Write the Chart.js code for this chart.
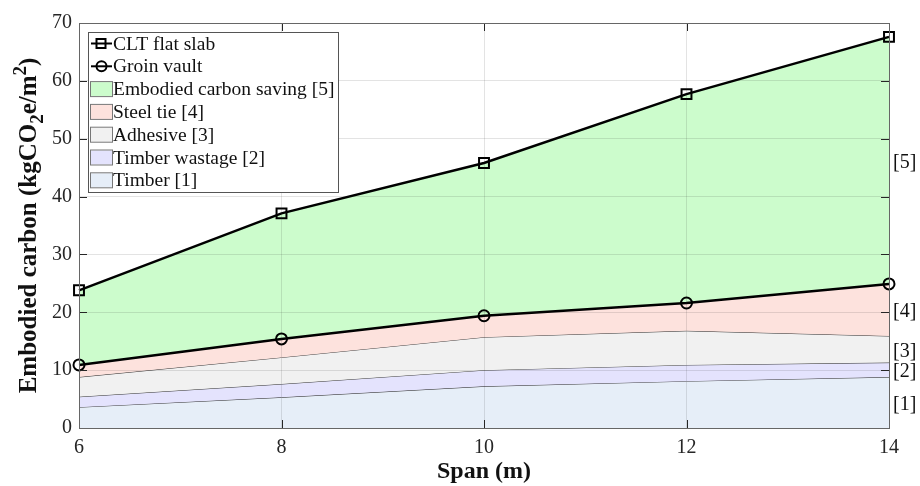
<!DOCTYPE html>
<html>
<head>
<meta charset="utf-8">
<script src="https://cdn.jsdelivr.net/npm/chart.js@4/dist/chart.umd.min.js"></script>
<style>
  body { margin: 0; background: #fff; }
  canvas { display: block; }
</style>
</head>
<body>
<canvas id="carbonChart" width="920" height="486"></canvas>
<script>
// values (kgCO2e/m2), tops of each band
const spans = ['6', '8', '10', '12', '14'];
const cltFlatSlab = [23.8, 37.1, 45.8, 57.7, 67.6];
const groinVault = [10.9, 15.4, 19.4, 21.6, 24.9];
const adhesiveTop = [8.8, 12.2, 15.7, 16.8, 15.9];
const wastageTop = [5.4, 7.6, 10.0, 10.9, 11.3];
const timberTop = [3.6, 5.3, 7.2, 8.1, 8.8];
const bandTags = ['[5]', '[4]', '[3]', '[2]', '[1]'];

Chart.defaults.font.family = "'Liberation Serif', 'Times New Roman', serif";
Chart.defaults.color = '#262626';

const FONT = "'Liberation Serif', 'Times New Roman', serif";
const axisInk = '#262626';

// box, inner ticks, legend, right-hand tags and y title (MATLAB look)
const matlabBits = {
    id: 'matlabBits',
    afterDraw(chart) {
        const ctx = chart.ctx;
        const a = chart.chartArea;
        const xs = chart.scales.x, ys = chart.scales.y;
        ctx.save();

        // inner ticks
        ctx.strokeStyle = axisInk;
        ctx.lineWidth = 1;
        ctx.beginPath();
        xs.ticks.forEach((t, i) => {
            const px = Math.round(xs.getPixelForTick(i)) + 0.5;
            ctx.moveTo(px, a.bottom); ctx.lineTo(px, a.bottom - 8);
            ctx.moveTo(px, a.top); ctx.lineTo(px, a.top + 8);
        });
        ys.ticks.forEach(t => {
            const py = Math.round(ys.getPixelForValue(t.value)) + 0.5;
            ctx.moveTo(a.left, py); ctx.lineTo(a.left + 8, py);
            ctx.moveTo(a.right, py); ctx.lineTo(a.right - 8, py);
        });
        ctx.stroke();

        // axes box
        ctx.strokeStyle = '#666';
        ctx.strokeRect(Math.round(a.left) + 0.5, Math.round(a.top) + 0.5,
            Math.round(a.right - a.left), Math.round(a.bottom - a.top));

        // band tags on the right
        const last = spans.length - 1;
        const bounds = [cltFlatSlab[last], groinVault[last], adhesiveTop[last], wastageTop[last], timberTop[last], 0];
        ctx.fillStyle = '#111';
        ctx.font = '20px ' + FONT;
        ctx.textAlign = 'left';
        ctx.textBaseline = 'middle';
        bandTags.forEach((tag, i) => {
            const mid = (bounds[i] + bounds[i + 1]) / 2;
            ctx.fillText(tag, a.right + 4, ys.getPixelForValue(mid) + 2);
        });

        // legend
        const lx = 88.5, ly = 32.5, lw = 250, lh = 160, row = 22.8;
        ctx.fillStyle = '#fff';
        ctx.fillRect(lx, ly, lw, lh);
        ctx.strokeStyle = '#555';
        ctx.strokeRect(lx, ly, lw, lh);
        chart.data.datasets.forEach((ds, i) => {
            const cy = ly + 11 + i * row;
            if (i < 2) {
                ctx.strokeStyle = '#000';
                ctx.lineWidth = 2;
                ctx.beginPath();
                ctx.moveTo(91, cy); ctx.lineTo(112, cy);
                ctx.stroke();
                if (i === 0) {
                    ctx.strokeRect(96.5, cy - 4.5, 9, 9);
                } else {
                    ctx.beginPath();
                    ctx.arc(101.5, cy, 5, 0, Math.PI * 2);
                    ctx.stroke();
                }
            } else {
                ctx.fillStyle = ds.backgroundColor;
                ctx.fillRect(91, cy - 7, 21, 14);
                ctx.strokeStyle = '#777';
                ctx.lineWidth = 1;
                ctx.strokeRect(90.5, cy - 7.5, 22, 15);
            }
            ctx.fillStyle = '#111';
            ctx.font = '19.5px ' + FONT;
            ctx.textAlign = 'left';
            ctx.textBaseline = 'middle';
            ctx.fillText(ds.label, 113, cy + 1);
        });

        // y axis title with sub/superscript
        const parts = [
            {t: 'Embodied carbon (kgCO', s: 25, dy: 0},
            {t: '2', s: 19, dy: 8},
            {t: 'e/m', s: 25, dy: 0},
            {t: '2', s: 19, dy: -9},
            {t: ')', s: 25, dy: 0}
        ];
        let total = 0;
        parts.forEach(p => {
            ctx.font = 'bold ' + p.s + 'px ' + FONT;
            p.w = ctx.measureText(p.t).width;
            total += p.w;
        });
        ctx.translate(30, (a.top + a.bottom) / 2);
        ctx.rotate(-Math.PI / 2);
        ctx.fillStyle = '#111';
        ctx.textAlign = 'left';
        ctx.textBaseline = 'middle';
        let cx = -total / 2;
        parts.forEach(p => {
            ctx.font = 'bold ' + p.s + 'px ' + FONT;
            ctx.fillText(p.t, cx, p.dy);
            cx += p.w;
        });
        ctx.restore();
    }
};

const ctx = document.getElementById('carbonChart').getContext('2d');
new Chart(ctx, {
    type: 'line',
    data: {
        labels: spans,
        datasets: [{
            label: 'CLT flat slab',
            data: cltFlatSlab,
            borderColor: '#000',
            borderWidth: 2.5,
            pointStyle: 'rect',
            pointRadius: 7,
            pointBorderWidth: 2,
            pointBorderColor: '#000',
            pointBackgroundColor: 'rgba(0,0,0,0)',
            fill: false
        }, {
            label: 'Groin vault',
            data: groinVault,
            borderColor: '#000',
            borderWidth: 2.5,
            pointStyle: 'circle',
            pointRadius: 5.5,
            pointBorderWidth: 2,
            pointBorderColor: '#000',
            pointBackgroundColor: 'rgba(0,0,0,0)',
            fill: false
        }, {
            label: 'Embodied carbon saving [5]',
            data: cltFlatSlab,
            backgroundColor: '#ccfccc',
            borderWidth: 0,
            pointRadius: 0,
            fill: 3
        }, {
            label: 'Steel tie [4]',
            data: groinVault,
            backgroundColor: '#fde2dd',
            borderWidth: 0,
            pointRadius: 0,
            fill: 4
        }, {
            label: 'Adhesive [3]',
            data: adhesiveTop,
            backgroundColor: '#f1f1f1',
            borderColor: '#333',
            borderWidth: 1,
            pointRadius: 0,
            fill: 5
        }, {
            label: 'Timber wastage [2]',
            data: wastageTop,
            backgroundColor: '#e4e3fd',
            borderColor: '#333',
            borderWidth: 1,
            pointRadius: 0,
            fill: 6
        }, {
            label: 'Timber [1]',
            data: timberTop,
            backgroundColor: '#e6eef8',
            borderColor: '#333',
            borderWidth: 1,
            pointRadius: 0,
            fill: 'origin'
        }]
    },
    options: {
        responsive: false,
        animation: false,
        devicePixelRatio: 1,
        layout: { padding: { top: 23, right: 31, left: 0, bottom: 0 } },
        plugins: {
            legend: { display: false },
            tooltip: { enabled: false }
        },
        scales: {
            x: {
                type: 'category',
                offset: false,
                grid: { color: 'rgba(38,38,38,0.13)', drawTicks: false, z: 1 },
                border: { display: false },
                ticks: { font: { size: 20 }, padding: 8, maxRotation: 0 },
                title: {
                    display: true,
                    text: 'Span (m)',
                    font: { size: 24, weight: 'bold' },
                    color: '#111',
                    padding: 0
                },
                afterFit: s => { s.height = 58; }
            },
            y: {
                min: 0,
                max: 70,
                grid: { color: 'rgba(38,38,38,0.13)', drawTicks: false, z: 1 },
                border: { display: false },
                ticks: { stepSize: 10, font: { size: 20 }, padding: 7 },
                afterFit: s => { s.width = 79; }
            }
        }
    },
    plugins: [matlabBits]
});
</script>
</body>
</html>
